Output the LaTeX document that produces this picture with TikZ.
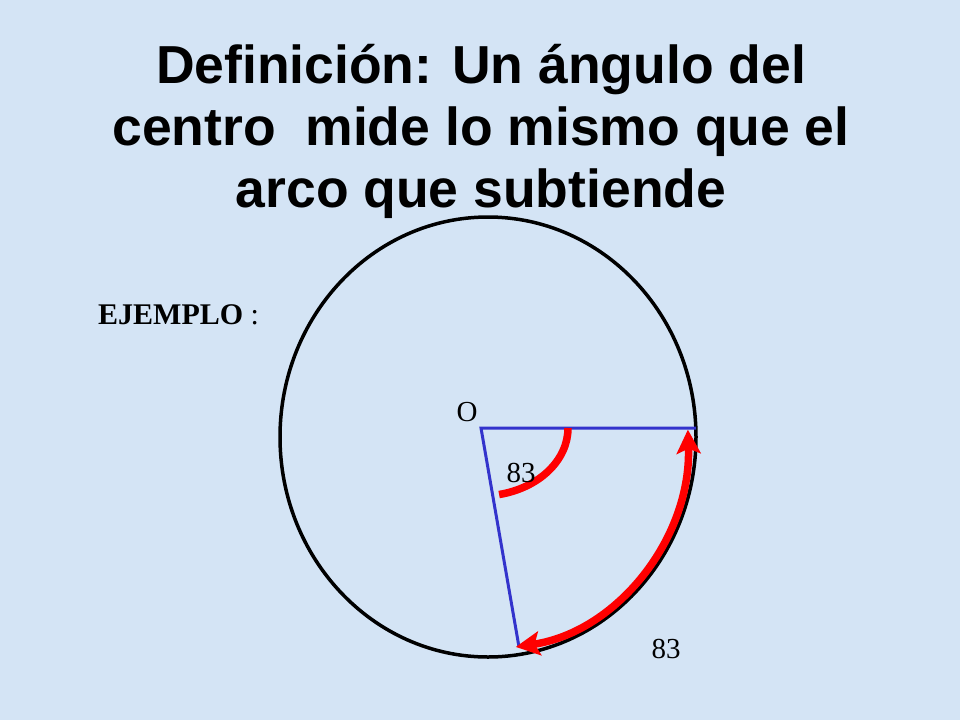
\documentclass[tikz,border=0pt]{standalone}
\usepackage{fontspec}
\setmainfont{Liberation Serif}
\newfontfamily\titlefont{Liberation Sans}
\usetikzlibrary{arrows.meta}
\definecolor{fondo}{RGB}{212,228,245}
\definecolor{radio}{RGB}{51,51,204}
\tikzset{
    rojo/.style={draw=red, line width=7.5pt},
    punta/.tip={Stealth[length=24pt, width=24pt, inset=5pt]},
    dato/.style={font=\fontsize{29}{32}\selectfont, inner sep=0pt}
}
\begin{document}
\begin{tikzpicture}[x=1pt, y=-1pt]
        \fill[fondo] (0,0) rectangle (960,720);

        \node (T) at (481,44) [anchor=north, inner sep=0pt, align=center, font=\titlefont\bfseries\fontsize{53.5}{62}\selectfont] {Definición: Un ángulo del\\centro\ \ mide lo mismo que el\\arco que subtiende};
        \node (E) at (98,324) [anchor=base west, inner sep=0pt, font=\fontsize{30}{32}\selectfont] {\textbf{EJEMPLO} :};

        % circunferencia
        \coordinate (C) at (488,437);
        \draw[line width=3.5pt] (C) ellipse [x radius=208, y radius=220];

        % radios
        \coordinate (O) at (481,428);
        \coordinate (A) at (696,428);
        \coordinate (B) at (519,647);
        \draw[radio, line width=3pt] (A) -- (O) -- (B);

        % angulo del centro
        \draw[rojo] (O) ++(87,0) arc[start angle=0, end angle=78, x radius=87, y radius=68];
        % arco subtendido
        \draw[rojo, punta-punta] (C) ++(-2:200 and 212) arc[start angle=-2, end angle=82, x radius=200, y radius=212];

        \node (LO) at (467,412) [dato] {O};
        \node (LA) at (521,473) [dato] {83};
        \node (LB) at (666,649) [dato] {83};
\end{tikzpicture}
\end{document}
